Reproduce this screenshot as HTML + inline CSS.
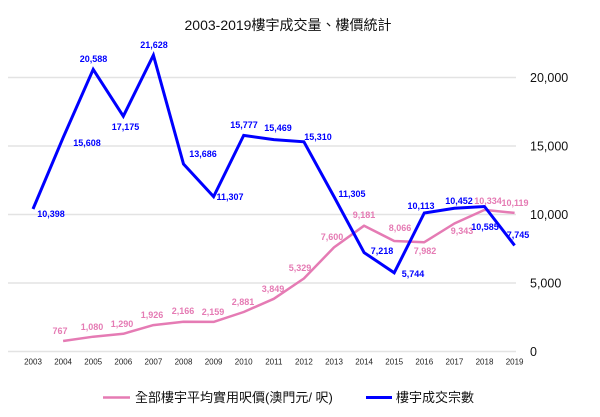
<!DOCTYPE html>
<html><head><meta charset="utf-8"><style>
html,body{margin:0;padding:0;background:#fff;}
svg{display:block;font-family:"Liberation Sans","Noto Sans CJK TC",sans-serif;}
.b{fill:#0000ff;font-size:9px;font-weight:bold;text-anchor:middle;}
.p{fill:#e57bb4;font-size:9px;font-weight:bold;text-anchor:middle;}
.yr{fill:#222;font-size:8px;text-anchor:middle;}
.ax{fill:#111;font-size:12.5px;}
</style></head><body>
<svg width="600" height="417" viewBox="0 0 600 417" xmlns="http://www.w3.org/2000/svg">
<rect width="600" height="417" fill="#fff"/>
<text x="288" y="30" text-anchor="middle" font-size="14" fill="#111">2003-2019樓宇成交量、樓價統計</text>
<g stroke="#e3e3e3" stroke-width="1.5">
<line x1="8" y1="77.5" x2="516" y2="77.5"/>
<line x1="8" y1="146" x2="516" y2="146"/>
<line x1="8" y1="214.5" x2="516" y2="214.5"/>
<line x1="8" y1="283" x2="516" y2="283"/>
<line x1="8" y1="351.5" x2="516" y2="351.5"/>
</g>
<g class="ax">
<text x="530" y="82">20,000</text>
<text x="530" y="150.5">15,000</text>
<text x="530" y="219">10,000</text>
<text x="530" y="287.5">5,000</text>
<text x="530" y="356">0</text>
</g>
<g class="yr">
<text x="33" y="364.5">2003</text><text x="63.1" y="364.5">2004</text><text x="93.2" y="364.5">2005</text><text x="123.3" y="364.5">2006</text><text x="153.4" y="364.5">2007</text><text x="183.5" y="364.5">2008</text><text x="213.6" y="364.5">2009</text><text x="243.7" y="364.5">2010</text><text x="273.8" y="364.5">2011</text><text x="303.9" y="364.5">2012</text><text x="334" y="364.5">2013</text><text x="364.1" y="364.5">2014</text><text x="394.2" y="364.5">2015</text><text x="424.3" y="364.5">2016</text><text x="454.4" y="364.5">2017</text><text x="484.5" y="364.5">2018</text><text x="514.6" y="364.5">2019</text>
</g>
<polyline fill="none" stroke="#e57bb4" stroke-width="2.5" stroke-linejoin="round" points="63.1,341 93.2,336.7 123.3,333.8 153.4,325.1 183.5,321.8 213.6,321.9 243.7,312 273.8,298.8 303.9,278.5 334,247.4 364.1,225.7 394.2,241 424.3,242.2 454.4,223.5 484.5,209.9 514.6,212.9"/>
<polyline fill="none" stroke="#0000ff" stroke-width="3" stroke-linejoin="miter" points="33,209 63.1,137.7 93.2,69.4 123.3,116.2 153.4,55.2 183.5,164 213.6,196.6 243.7,135.4 273.8,139.6 303.9,141.8 334,196.6 364.1,252.6 394.2,272.8 424.3,213 454.4,208.3 484.5,206.5 514.6,245.4"/>
<g class="p">
<text x="60" y="334">767</text>
<text x="92" y="330">1,080</text>
<text x="122" y="327">1,290</text>
<text x="152" y="318">1,926</text>
<text x="183" y="314">2,166</text>
<text x="213" y="315">2,159</text>
<text x="243" y="305">2,881</text>
<text x="273" y="292">3,849</text>
<text x="300" y="271">5,329</text>
<text x="332" y="240">7,600</text>
<text x="364" y="218">9,181</text>
<text x="400" y="231">8,066</text>
<text x="425" y="254">7,982</text>
<text x="462" y="234">9,343</text>
<text x="488" y="204">10,334</text>
<text x="515" y="206">10,119</text>
</g>
<g class="b">
<text x="51" y="217">10,398</text>
<text x="87" y="146">15,608</text>
<text x="93.5" y="62">20,588</text>
<text x="125.5" y="130">17,175</text>
<text x="154" y="48">21,628</text>
<text x="203" y="157">13,686</text>
<text x="230" y="200">11,307</text>
<text x="244" y="128">15,777</text>
<text x="278" y="131">15,469</text>
<text x="318" y="140">15,310</text>
<text x="352" y="197">11,305</text>
<text x="382" y="254">7,218</text>
<text x="413" y="277">5,744</text>
<text x="421" y="209">10,113</text>
<text x="459" y="204">10,452</text>
<text x="485" y="230">10,585</text>
<text x="518" y="238">7,745</text>
</g>
<line x1="103" y1="397.5" x2="130" y2="397.5" stroke="#e57bb4" stroke-width="2.5"/>
<text x="135" y="402" font-size="13" fill="#111">全部樓宇平均實用呎價(澳門元/ 呎)</text>
<line x1="366" y1="397.5" x2="392" y2="397.5" stroke="#0000ff" stroke-width="3"/>
<text x="396" y="402" font-size="13" fill="#111">樓宇成交宗數</text>
</svg>
</body></html>
